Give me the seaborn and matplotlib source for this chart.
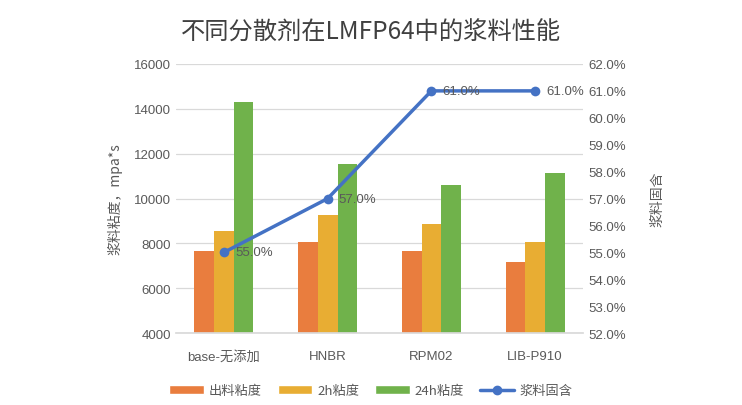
import numpy as np
import pandas as pd
import matplotlib
matplotlib.use("Agg")
import matplotlib.pyplot as plt
import seaborn as sns
from matplotlib.patches import Patch
from matplotlib.lines import Line2D
from matplotlib.ticker import FuncFormatter

categories = ["base-无添加", "HNBR", "RPM02", "LIB-P910"]
series_names = ["出料粘度", "2h粘度", "24h粘度"]
visc_out = [7650, 8050, 7650, 7150]
visc_2h = [8550, 9250, 8850, 8050]
visc_24h = [14300, 11550, 10600, 11150]
solid = [55.0, 57.0, 61.0, 61.0]
line_name = "浆料固含"

sns.set_theme(style="white")
plt.rcParams['font.family'] = ['Liberation Sans', 'Noto Sans CJK SC', 'DejaVu Sans']

colors = ["#E97D3E", "#E8AD33", "#70B24B"]
line_color = "#4472C4"
text_color = "#595959"

df = pd.DataFrame({
    "cat": categories * 3,
    "series": sum([[s] * len(categories) for s in series_names], []),
    "value": visc_out + visc_2h + visc_24h,
})

fig = plt.figure(figsize=(7.42, 4.06), dpi=100)
ax = fig.add_axes([0.237, 0.177, 0.549, 0.663])

sns.barplot(data=df, x="cat", y="value", hue="series", palette=colors,
            width=0.57, gap=0, ax=ax, legend=False, saturation=1,
            linewidth=0, edgecolor="none")
ax.set_ylim(4000, 16000)
ax.set_yticks(np.arange(4000, 16001, 2000))
ax.yaxis.grid(True, color="#D9D9D9", linewidth=0.9)
ax.set_axisbelow(True)
for s in ["top", "right", "left"]:
    ax.spines[s].set_visible(False)
ax.spines["bottom"].set_color("#D9D9D9")
ax.tick_params(axis="both", length=0, colors=text_color, labelsize=9.5)
ax.tick_params(axis="x", pad=12)
ax.set_xlabel("")
ax.set_ylabel("浆料粘度，mpa*s", color=text_color, fontsize=10,
              family=['Noto Sans CJK SC'], labelpad=8)

ax2 = ax.twinx()
xpos = np.arange(len(categories))
sns.lineplot(x=xpos, y=solid, ax=ax2, color=line_color, linewidth=2.5,
             marker="o", markersize=7, markeredgewidth=0)
ax2.set_ylim(52, 62)
ax2.set_yticks(np.arange(52, 62.1, 1))
ax2.yaxis.set_major_formatter(FuncFormatter(lambda v, p: f"{v:.1f}%"))
for s in ["top", "right", "left", "bottom"]:
    ax2.spines[s].set_visible(False)
ax2.tick_params(axis="y", length=0, colors=text_color, labelsize=9.5)
ax2.set_ylabel(line_name, color=text_color, fontsize=10,
               family=['Noto Sans CJK SC'], rotation=90, labelpad=18)
ax2.grid(False)
for x, v in zip(xpos, solid):
    ax2.annotate(f"{v:.1f}%", (x, v), xytext=(8, 0), textcoords="offset points",
                 ha="left", va="center", fontsize=9.5, color=text_color)

fig.text(0.5, 0.92, "不同分散剂在LMFP64中的浆料性能", ha="center", va="center",
         fontsize=17.5, color="#404040", family=['Noto Sans CJK SC'])

handles = [Patch(facecolor=c, label=n) for c, n in zip(colors, series_names)]
handles.append(Line2D([0], [0], color=line_color, lw=2.5, marker="o",
                      markersize=6, label=line_name))
leg = fig.legend(handles=handles, loc="center", bbox_to_anchor=(0.5, 0.035),
                 ncol=4, frameon=False, handlelength=2.6,
                 handleheight=0.6, columnspacing=1.2, handletextpad=0.4,
                 prop={'family': ['Noto Sans CJK SC'], 'size': 9.5})
for t in leg.get_texts():
    t.set_color(text_color)

fig.savefig("out.png", dpi=100)
